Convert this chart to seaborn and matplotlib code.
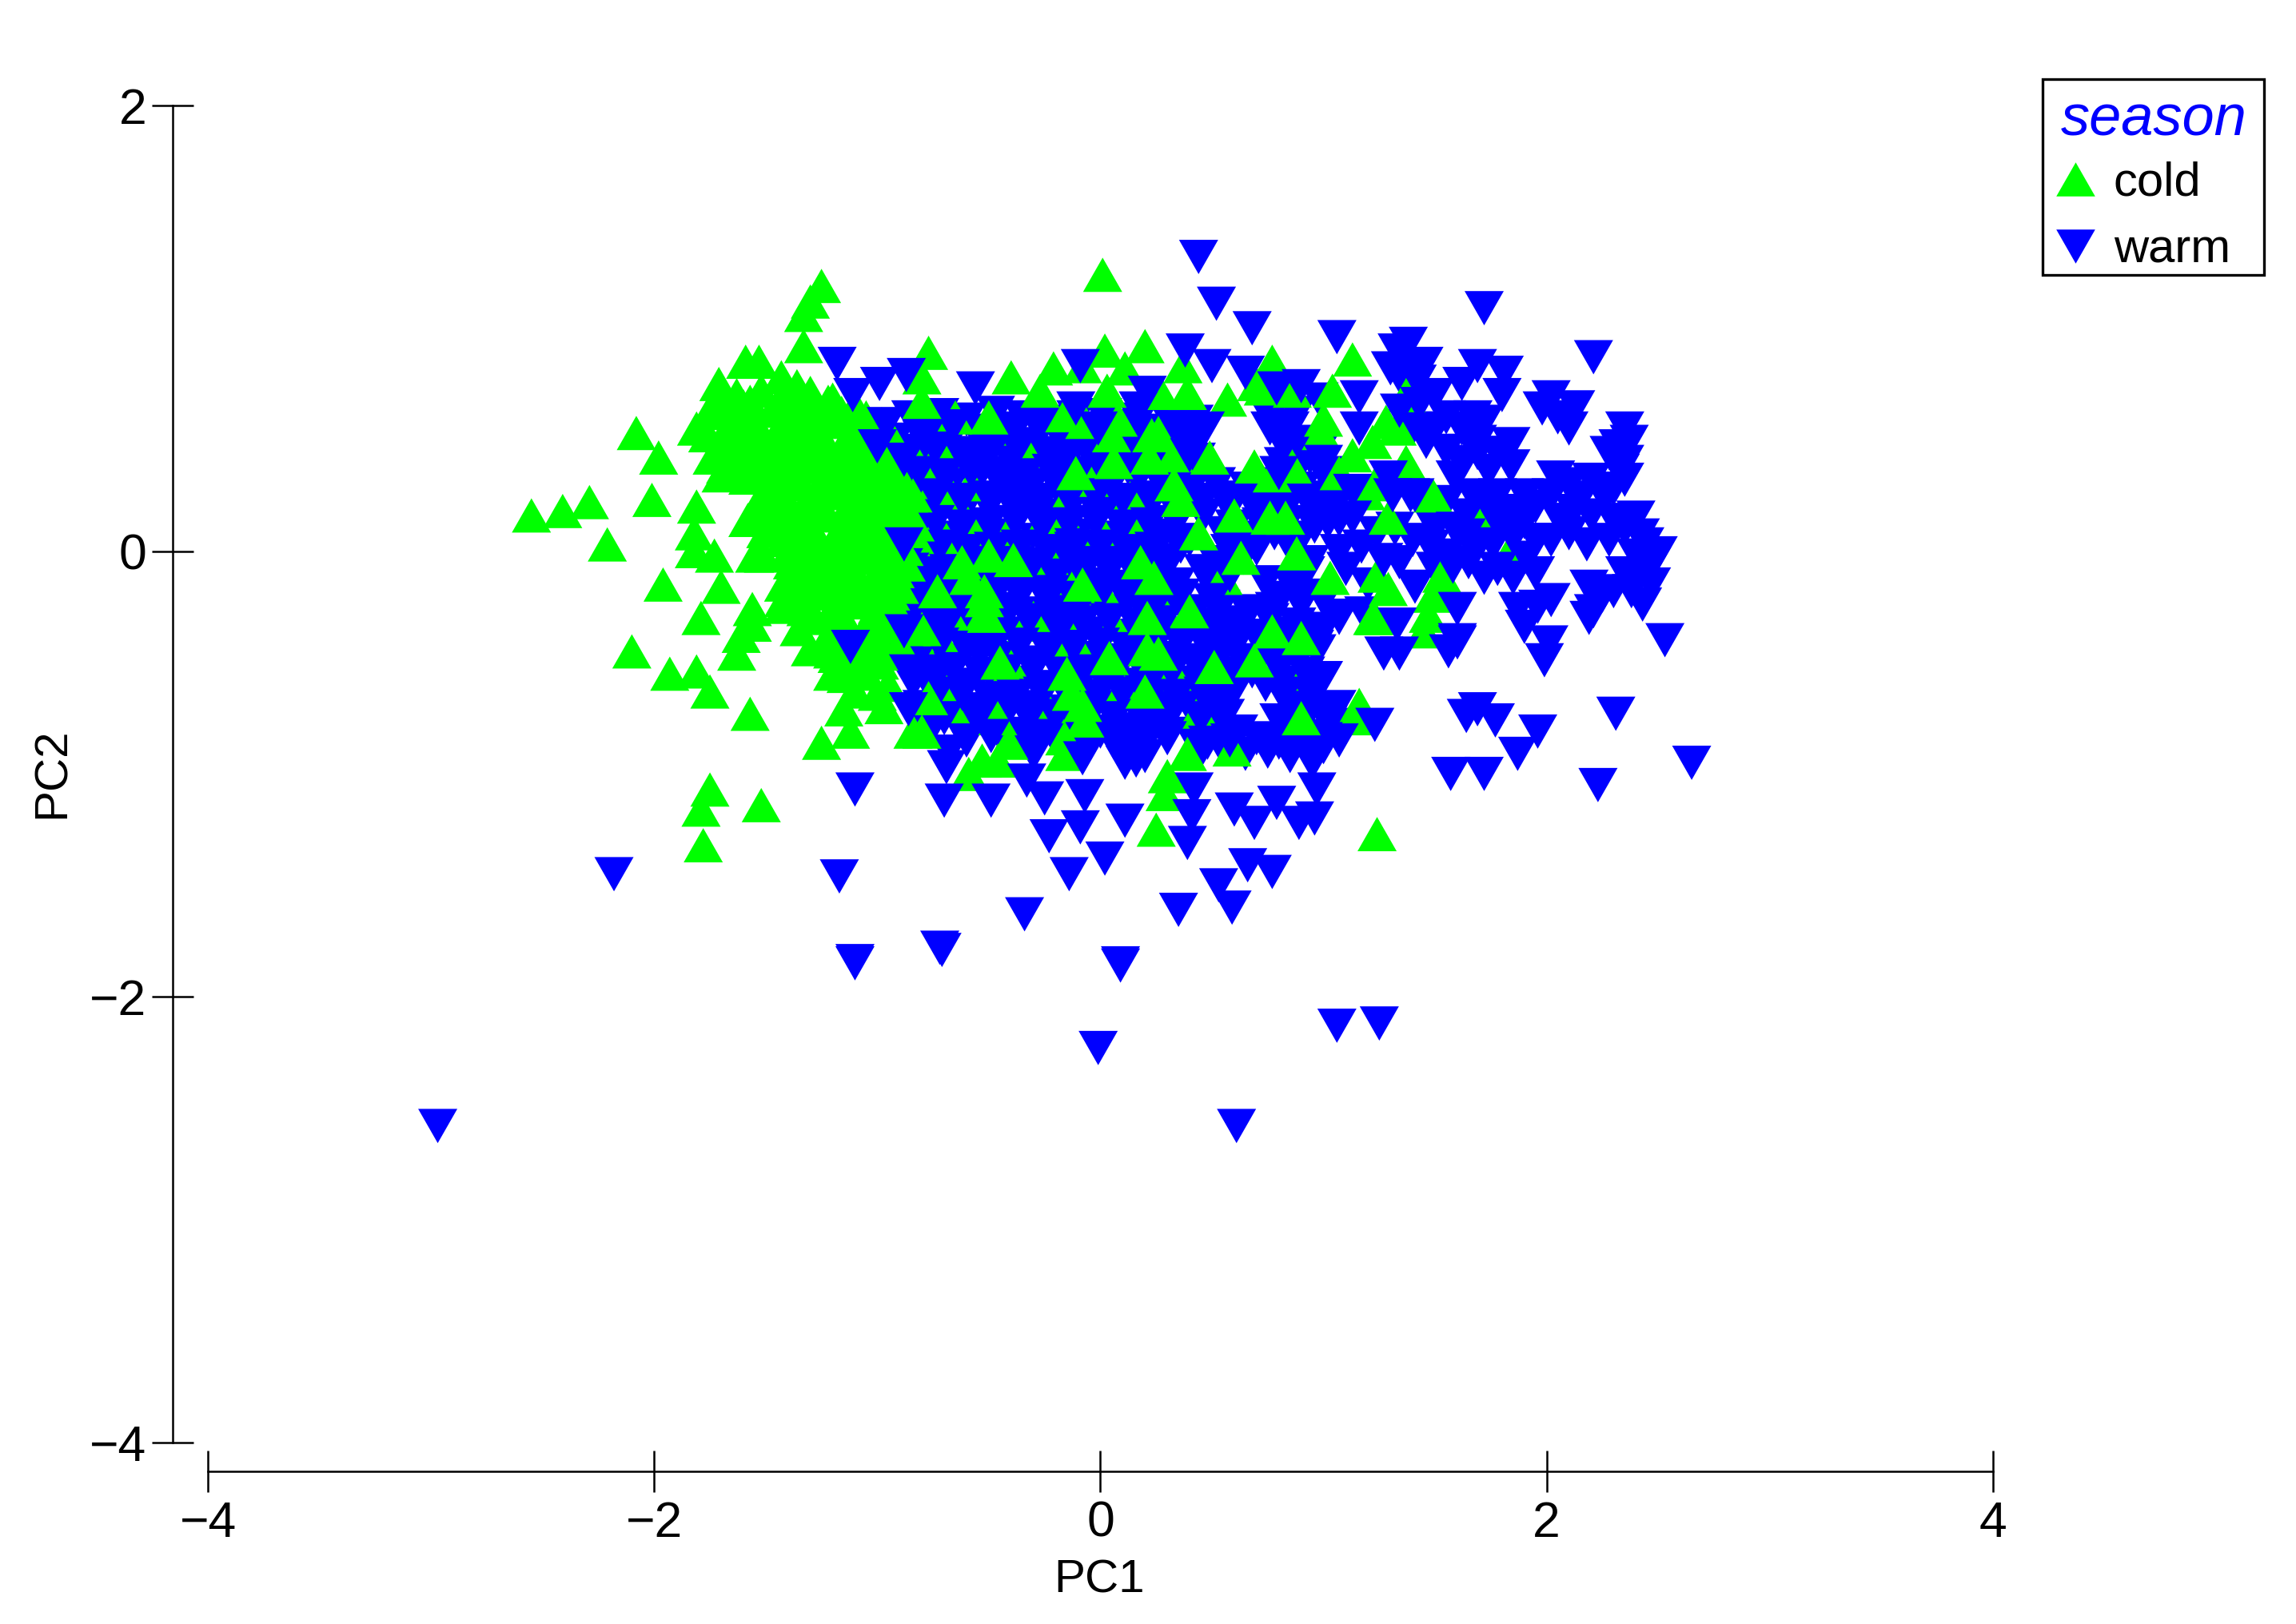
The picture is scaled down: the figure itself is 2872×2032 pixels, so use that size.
import matplotlib
matplotlib.use("Agg")
import matplotlib.pyplot as plt
from matplotlib.lines import Line2D
from matplotlib.patches import Rectangle
from matplotlib.path import Path
import pandas as pd
import seaborn as sns

# (PC1, PC2), grouped by drawing layer
warm_mass = [
(-.85,.60),(-.72,.61),(-.60,.59),(-.47,.62),(-.35,.60),(-.22,.58),(-.11,.60),(.01,.61),(.17,.59),(.30,.60),(.42,.58),(.76,.60),(.88,.62),
(-.92,.50),(-.80,.51),(-.68,.49),(-.55,.52),(-.43,.50),(-.30,.48),(-.18,.51),(-.06,.50),(.07,.49),(.19,.52),(.31,.50),(.41,.48),(.80,.51),(.92,.49),
(-.88,.40),(-.76,.41),(-.64,.39),(-.52,.42),(-.40,.40),(-.28,.38),(-.16,.41),(-.03,.40),(.09,.39),(.20,.42),(.33,.40),(.43,.41),(.82,.39),(.94,.42),
(-.92,.29),(-.80,.30),(-.68,.28),(-.56,.31),(-.44,.29),(-.32,.27),(-.20,.30),(-.08,.29),(.04,.28),(.16,.31),(.28,.29),(.40,.27),(.52,.30),(.66,.28),(.78,.30),(.90,.28),
(-.86,.18),(-.74,.19),(-.62,.17),(-.50,.20),(-.38,.18),(-.26,.16),(-.14,.19),(-.02,.18),(.10,.17),(.22,.20),(.34,.18),(.46,.16),(.58,.19),(.70,.18),(.82,.17),(.95,.19),
(-.92,.07),(-.80,.08),(-.68,.06),(-.56,.09),(-.44,.07),(-.32,.05),(-.20,.08),(-.08,.07),(.04,.06),(.16,.09),(.28,.07),(.40,.05),(.55,.08),(.66,.06),(.78,.08),(.90,.06),
(-.90,-.04),(-.78,-.03),(-.66,-.05),(-.54,-.02),(-.42,-.04),(-.30,-.06),(-.18,-.03),(-.06,-.04),(.06,-.05),(.18,-.02),(.30,-.04),(.52,-.05),(.64,-.03),(.94,-.05),
(-.86,-.15),(-.74,-.14),(-.62,-.16),(-.50,-.13),(-.38,-.15),(-.26,-.17),(-.14,-.14),(-.02,-.15),(.10,-.16),(.22,-.13),(.34,-.15),(.50,-.16),(.74,-.14),(.86,-.16),
(-.90,-.26),(-.78,-.25),(-.66,-.27),(-.54,-.24),(-.42,-.26),(-.30,-.28),(-.18,-.25),(-.06,-.26),(.06,-.27),(.18,-.24),(.30,-.26),(.42,-.27),(.54,-.25),(.66,-.27),(.78,-.26),(.90,-.24),
(-.86,-.37),(-.74,-.36),(-.62,-.38),(-.50,-.35),(-.38,-.37),(-.26,-.39),(-.14,-.36),(-.02,-.37),(.10,-.38),(.22,-.35),(.34,-.37),(.46,-.38),(.58,-.36),(.70,-.38),(.82,-.37),(.94,-.35),
(-.90,-.48),(-.78,-.47),(-.66,-.49),(-.54,-.46),(-.42,-.48),(-.30,-.50),(-.18,-.47),(-.06,-.48),(.06,-.49),(.18,-.46),(.30,-.48),(.42,-.49),(.54,-.47),(.66,-.49),(.78,-.48),(.90,-.46),
(-.84,-.59),(-.72,-.58),(-.60,-.60),(-.48,-.57),(-.36,-.59),(-.24,-.61),(-.12,-.58),(.02,-.59),(.14,-.60),(.26,-.57),(.38,-.59),(.50,-.60),(.62,-.58),(.74,-.60),(.86,-.59),
(-.80,-.70),(-.68,-.69),(-.56,-.71),(-.44,-.68),(-.32,-.70),(-.20,-.72),(-.08,-.69),(.04,-.70),(.16,-.71),(.28,-.68),(.40,-.70),(.52,-.71),(.88,-.69),(1.00,-.71),
(-.76,-.80),(-.62,-.81),(-.50,-.79),(-.38,-.82),(-.26,-.80),(-.12,-.78),(.00,-.81),(.12,-.80),(.24,-.79),(.40,-.82),(.50,-.80),(.62,-.81),(.86,-.79),
(-.68,-.90),(-.30,-.91),(-.10,-.89),(.10,-.90),(.20,-.92),(.45,-.90),(.55,-.89),(.65,-.91),(.75,-.90),(.85,-.92),(.95,-.89),
]
cold_partly_hidden = [
(-.43,.55),(-.65,.60),(-.72,.45),(-.77,.31),(-.81,.38),(-.66,.24),(-.18,.18),(-.26,.12),(.00,.10),(-.54,.10),(-.40,.10),(-.75,.07),(-.69,.05),(-.23,-.03),(.14,.25),(.15,.15),
(-.67,-.60),(-.63,-.70),(.06,-.33),(-.33,-.33),(-.30,-.30),(.30,-.30),(.59,-.89),(1.67,.18),(1.83,-.01),(.02,-.20),(-.82,-.35),(-.10,-.12),(.92,-.55),(1.04,.20),
(-.58,.30),(-.30,.45),(-.05,.32),(-.62,-.28),(-.40,-.52),(-.12,-.40),(.10,-.62),(.33,-.55),(.55,-.12),(-.70,-.42),(-.24,-.70),(.44,-.72),
]
warm_fill = [
(-.78,.55),(-.66,.56),(-.53,.54),(-.41,.55),(-.28,.56),(-.16,.54),(-.05,.55),(.08,.56),(.24,.54),(.36,.55),(.82,.56),
(-.86,.45),(-.74,.46),(-.62,.44),(-.49,.45),(-.37,.46),(-.24,.44),(-.12,.45),(.01,.46),(.13,.44),(.25,.45),(.37,.46),(.86,.44),(.98,.45),
(-.82,.35),(-.70,.34),(-.58,.36),(-.46,.35),(-.34,.34),(-.22,.36),(-.10,.35),(.03,.34),(.15,.36),(.27,.35),(.38,.34),(.88,.36),(1.00,.35),
(-.86,.24),(-.74,.25),(-.62,.23),(-.50,.24),(-.38,.25),(-.26,.23),(-.14,.24),(-.02,.25),(.10,.23),(.22,.24),(.34,.25),(.46,.23),(.60,.24),(.72,.25),(.84,.23),(.96,.24),
(-.86,.12),(-.74,.13),(-.62,.11),(-.50,.12),(-.38,.13),(-.26,.11),(-.14,.12),(-.02,.13),(.10,.11),(.22,.12),(.34,.13),(.60,.11),(.72,.12),(.84,.13),(.96,.11),
(-.84,.01),(-.72,.02),(-.60,.00),(-.48,.01),(-.36,.02),(-.24,.00),(-.12,.01),(.00,.02),(.12,.00),(.24,.01),(.36,.02),(.58,.00),(.70,.01),(.85,.02),
(-.80,-.10),(-.68,-.09),(-.56,-.11),(-.44,-.10),(-.32,-.09),(-.20,-.11),(-.08,-.10),(.04,-.09),(.16,-.11),(.28,-.10),(.46,-.09),(.58,-.11),(.92,-.10),
(-.84,-.21),(-.72,-.20),(-.60,-.22),(-.48,-.21),(-.36,-.20),(-.24,-.22),(-.12,-.21),(.00,-.20),(.12,-.22),(.24,-.21),(.36,-.20),(.50,-.22),(.80,-.21),(.92,-.20),
(-.80,-.32),(-.68,-.31),(-.56,-.33),(-.44,-.32),(-.32,-.31),(-.20,-.33),(-.08,-.32),(.04,-.31),(.16,-.33),(.28,-.32),(.40,-.31),(.52,-.33),(.64,-.32),(.76,-.31),(.88,-.33),
(-.84,-.43),(-.72,-.42),(-.60,-.44),(-.48,-.43),(-.36,-.42),(-.24,-.44),(-.12,-.43),(.00,-.42),(.12,-.44),(.24,-.43),(.36,-.42),(.48,-.44),(.60,-.43),(.72,-.42),(.84,-.44),(.96,-.43),
(-.78,-.54),(-.66,-.53),(-.54,-.55),(-.42,-.54),(-.30,-.53),(-.18,-.55),(-.06,-.54),(.08,-.53),(.20,-.55),(.32,-.54),(.44,-.53),(.56,-.55),(.68,-.54),(.80,-.53),(.92,-.55),
(-.74,-.65),(-.62,-.64),(-.50,-.66),(-.38,-.65),(-.26,-.64),(-.14,-.66),(-.02,-.65),(.10,-.64),(.22,-.66),(.34,-.65),(.46,-.64),(.58,-.66),(.82,-.65),(.94,-.64),
(-.70,-.75),(-.56,-.74),(-.44,-.76),(-.32,-.75),(-.20,-.74),(-.06,-.76),(.06,-.75),(.18,-.74),(.30,-.76),(.45,-.75),(.56,-.74),(.80,-.76),(.92,-.75),
(-.60,-.85),(-.44,-.84),(-.32,-.86),(-.20,-.85),(-.04,-.84),(.06,-.86),(.18,-.85),(.30,-.84),(.48,-.86),(.58,-.85),(.70,-.84),(.80,-.86),(.90,-.85),
(.98,.68),(1.05,.20),(1.17,.02),(1.10,-.08),(1.20,-.15),(1.00,-.22),(1.32,.10),(1.24,.08),(1.40,.05),(1.34,-.05),(1.18,-.28),(1.00,-.35),(.97,-.45),(.98,-.83),(.95,-.95),(1.00,-.88),(1.05,-.78),(.98,-.60),
(1.62,.55),(1.72,.58),(1.55,.60),(1.50,.70),(1.42,.76),(1.55,.45),(1.62,.40),(1.74,.36),(1.84,.38),(1.55,.22),(1.64,.16),(1.74,.20),(1.84,.18),(1.95,.20),(2.02,.25),(2.10,.30),(2.20,.32),(2.30,.28),(2.20,.16),(2.30,.14),(2.12,.18),
(1.95,.05),(1.85,.06),(1.76,.03),(1.64,.07),(1.50,.10),(1.48,.02),(1.55,-.02),(1.65,-.05),(1.78,-.08),(1.85,-.12),(1.95,-.10),(1.50,-.08),(2.35,.10),(2.28,.05),(2.42,.07),(2.40,-.02),(2.35,-.10),(2.30,-.18),(2.38,-.18),
(2.05,.60),(2.10,.55),(1.36,.75),(1.40,.82),(1.30,.82),(1.50,.55),(1.40,.55),(2.32,.47),(2.33,.36),
]
cold_points = [
(-2.55,.16),(-2.41,.18),(-2.29,.22),(-2.08,.53),(-1.98,.42),(-2.01,.23),(-2.21,.03),(-1.81,.20),(-1.82,.08),(-1.82,.00),(-1.73,-.02),
(-1.96,-.15),(-1.70,-.16),(-1.79,-.30),(-1.56,-.26),(-1.56,-.33),(-1.55,-.02),(-1.51,-.02),(-1.39,.01),(-1.25,1.19),(-1.30,1.12),(-1.33,1.06),(-1.33,.92),
(-1.59,.85),(-1.53,.85),(-1.43,.78),(-1.36,.74),(-1.71,.75),(-1.75,.63),(-1.81,.55),(-1.60,.65),
(-2.10,-.45),(-1.93,-.55),(-1.81,-.54),(-1.75,-.63),(-1.57,-.73),(-1.61,-.38),(-1.63,-.46),(-1.23,-.40),(-1.18,-.47),(-1.14,-.56),(-.97,-.70),(-1.15,-.71),(-1.12,-.81),(-1.25,-.86),(-.84,-.81),
(-1.75,-1.07),(-1.79,-1.16),(-1.78,-1.32),(-1.52,-1.14),(-1.42,-.22),(-1.32,-.26),(-1.14,-.32),(-.99,-.50),(-1.08,-.50),
(-1.05,-.55),(-.95,-.60),(-1.20,-.55),(-1.30,-.44),(-1.35,-.35),(-1.10,-.63),(-1.00,-.64),
(-1.63,.70),(-1.52,.72),(-1.42,.69),(-1.30,.71),(-1.20,.68),
(-1.72,.62),(-1.63,.60),(-1.47,.63),(-1.38,.61),(-1.28,.60),(-1.16,.62),(-1.05,.60),
(-1.76,.52),(-1.66,.50),(-1.55,.53),(-1.46,.51),(-1.33,.52),(-1.24,.50),(-1.12,.53),(-1.02,.51),(-.93,.50),
(-1.74,.42),(-1.63,.41),(-1.52,.43),(-1.41,.40),(-1.30,.42),(-1.20,.41),(-1.09,.43),(-.99,.42),
(-1.70,.34),(-1.58,.33),(-1.46,.35),(-1.35,.32),(-1.23,.34),(-1.12,.33),(-1.00,.35),(-.90,.33),
(-1.52,.24),(-1.42,.25),(-1.30,.23),(-1.20,.26),(-1.08,.24),(-.96,.23),(-.86,.25),
(-1.58,.14),(-1.47,.15),(-1.36,.13),(-1.25,.16),(-1.14,.14),(-1.03,.13),(-.92,.15),(-.85,.14),
(-1.42,.05),(-1.32,.06),(-1.20,.04),(-1.10,.07),(-.98,.05),(-.90,.04),
(-1.38,-.05),(-1.28,-.04),(-1.16,-.06),(-1.05,-.03),(-.94,-.05),(-.87,-.06),
(-1.42,-.15),(-1.30,-.14),(-1.20,-.16),(-1.08,-.13),(-.98,-.15),(-.90,-.16),
(-1.42,-.25),(-1.32,-.24),(-1.20,-.26),(-1.10,-.23),(-1.00,-.25),(-.92,-.26),
(-1.20,-.35),(-1.05,-.36),(-.97,-.34),(-1.20,-.45),(-1.07,-.44),(-.96,-.46),
(-1.68,.66),(-1.57,.67),(-1.45,.65),(-1.33,.66),(-1.22,.67),(-1.10,.65),
(-1.66,.57),(-1.55,.58),(-1.43,.56),(-1.33,.57),(-1.22,.58),(-1.10,.56),(-.98,.57),
(-1.70,.47),(-1.59,.48),(-1.49,.46),(-1.38,.47),(-1.27,.48),(-1.16,.46),(-1.06,.47),(-.96,.48),
(-1.68,.38),(-1.57,.39),(-1.46,.37),(-1.35,.38),(-1.25,.39),(-1.14,.37),(-1.03,.38),(-.94,.39),
(-1.46,.29),(-1.36,.30),(-1.25,.28),(-1.14,.29),(-1.04,.30),(-.94,.28),
(-1.54,.19),(-1.44,.20),(-1.34,.18),(-1.24,.19),(-1.13,.20),(-1.02,.18),(-.91,.19),
(-1.50,.09),(-1.40,.10),(-1.28,.08),(-1.17,.09),(-1.06,.10),(-.95,.08),(-.85,.09),
(-1.36,.00),(-1.24,.01),(-1.12,-.01),(-1.00,.00),(-.88,.01),
(-1.35,-.10),(-1.23,-.09),(-1.12,-.11),(-1.00,-.10),(-.92,-.09),
(-1.36,-.20),(-1.25,-.19),(-1.14,-.21),(-1.03,-.20),(-.94,-.19),
(-1.28,-.30),(-1.15,-.31),(-1.02,-.29),(-.92,-.30),(-1.12,-.41),(-1.00,-.40),(-.90,-.42),
(.01,1.24),(-.77,.89),(-.80,.78),(-.80,.67),(-.40,.78),(-.21,.82),(-.27,.72),(.02,.90),(.20,.92),(.11,.82),(-.08,.83),(.03,.72),(.37,.83),(.39,.71),(.27,.71),(.57,.68),(.77,.85),(.70,.75),(.73,.73),(.86,.72),
(-.16,.61),(-.07,.58),(.05,.52),(.08,.59),(.26,.53),(.23,.52),(.22,.42),(.06,.40),(-.11,.35),(.33,.30),(.33,.43),(.36,.23),(.49,.42),(.69,.38),(.86,.38),(.44,.08),(.60,.16),(.76,.15),(.83,.15),(.88,-.01),(.63,-.03),(.77,.34),
(-.50,.60),(-.84,.25),(-.83,.12),
(-.50,-.02),(-.62,-.05),(-.39,-.04),(-.59,-.12),(-.73,-.18),(-.52,-.18),(-.52,-.28),(-.80,-.35),(-.08,-.15),(.18,-.05),(.24,-.12),
(-.53,-.94),(-.59,-1.00),(-.41,-.86),(-.46,-.94),(-.45,-.50),(-.15,-.55),(-.13,-.64),(-.07,-.76),(-.08,-.69),(-.16,-.84),(-.16,-.91),(.04,-.48),(.21,-.44),(.26,-.46),(.20,-.63),(.51,-.52),(.69,-.49),(.77,-.36),(.90,-.39),
(-.46,-.75),(-.80,-.81),(-.77,-.66),(.40,-.27),(.21,-.30),(-.52,-.22),(-.51,-.29),(.90,-.75),(.39,-.91),(.30,-1.01),(.29,-1.09),(.25,-1.25),
(1.13,.86),(1.04,.72),(1.00,.59),(1.37,.70),(1.28,.58),(1.33,.55),(.99,.53),(1.22,.49),(1.13,.43),(1.07,.35),(1.23,.30),(1.37,.40),(1.49,.25),(1.19,.26),(1.29,.15),
(1.03,-.12),(1.24,-.11),(1.53,-.11),(1.29,-.17),(1.49,-.20),(1.23,-.30),(1.47,-.29),(1.24,-1.27),(1.16,-.69),(1.14,-.75),(1.22,-.30),(1.45,-.36),
]
warm_top = [
(.44,1.32),(.52,1.11),(.68,1.00),(.38,.90),(.50,.83),(.65,.80),(-.09,.83),(-.56,.73),(-.11,.64),(.17,.64),(.21,.71),(.79,.73),(.90,.74),(.47,.55),(.76,.55),(.85,.55),(.40,.43),(-.01,.55),(.80,.35),
(-1.18,.84),(-1.11,.70),(-.96,.57),(-.99,.75),(-.87,.79),(-1.00,.47),(-.88,.41),(-.88,.03),(-.88,-.36),(-1.12,-.43),(-.86,-.54),(-.86,-.71),(-1.10,-1.07),(-2.18,-1.45),(-1.17,-1.46),(-1.10,-1.85),
(-.69,-.97),(-.70,-1.12),(-.49,-1.12),(-.33,-1.03),(-.25,-1.11),(-.23,-1.28),(-.09,-1.24),(-.07,-1.10),(.11,-1.21),(.02,-1.38),(-.14,-1.45),(-.34,-1.63),(-.71,-1.79),(.09,-1.86),(.35,-1.61),(.53,-1.50),(.59,-1.60),(.66,-1.41),(.77,-1.44),
(.39,-1.31),(.42,-1.07),(.41,-1.19),(.60,-1.16),(.69,-1.22),(.89,-1.22),(.79,-1.13),(.11,-.95),(.16,-.94),(-.08,-.93),(-.27,-.83),(-.49,-.83),
(1.72,1.09),(1.06,.96),(1.38,.93),(1.33,.90),(1.45,.84),(1.69,.83),(1.81,.80),(2.21,.87),(1.16,.69),(1.43,.66),(1.62,.75),(2.02,.69),(2.13,.645),(1.98,.64),(1.34,.63),(1.80,.70),(1.16,.55),(2.35,.55),(2.37,.49),(1.46,.49),(1.69,.49),(1.84,.48),(1.67,.60),
(2.28,.44),(2.35,.40),(2.35,.32),(2.04,.33),(1.59,.33),(1.69,.44),(1.78,.44),(2.14,.24),(2.26,.24),(2.40,.15),(2.44,.03),(2.50,-.01),(2.47,-.06),(2.47,-.15),(2.43,-.24),(2.42,-.10),(2.18,.03),(2.06,.14),(1.90,.25),(1.78,.25),(1.67,.25),(1.78,.13),(1.90,.13),
(1.41,.25),(1.59,.10),(1.69,.02),(1.58,-.07),(1.72,-.12),(2.19,-.16),(2.21,-.27),(2.25,-.20),(1.91,-.03),(2.10,.08),(2.02,.05),(1.96,-.25),(1.87,-.26),(2.02,-.22),(1.41,-.16),(1.60,-.26),(1.60,-.40),(1.07,-.29),(1.07,.00),(1.27,-.04),(1.13,.15),(1.02,.13),(1.31,.25),(1.39,.25),(1.13,.27),(1.29,.33),(1.00,.40),(1.07,.14),
(1.07,-.30),(1.27,-.46),(1.34,-.46),(1.33,-.33),(1.56,-.45),(1.60,-.41),(1.99,-.49),(2.01,-.41),(1.90,-.34),(2.19,-.30),(2.53,-.40),(1.00,-.57),(1.06,-.70),(1.02,-.77),(1.07,-.85),(1.23,-.78),(1.64,-.74),(1.69,-.71),(1.77,-.76),(1.96,-.81),(1.87,-.91),(2.31,-.73),(1.57,-1.00),(1.72,-1.00),(2.23,-1.05),(2.65,-.95),(.97,-1.07),(.96,-1.20),
(-2.97,-2.58),(.61,-2.58),(-.01,-2.23),(1.06,-2.13),(1.25,-2.12),(.09,-1.85),(-1.10,-1.84),(-.72,-1.78),
]
season_levels = ["cold", "warm"]
season_colors = ["#00FF00", "#0000FF"]
x_ticks = [-4, -2, 0, 2, 4]
y_ticks = [-4, -2, 0, 2]

rows = ([p + ("warm",) for p in warm_mass] + [p + ("cold",) for p in cold_partly_hidden]
        + [p + ("warm",) for p in warm_fill] + [p + ("cold",) for p in cold_points]
        + [p + ("warm",) for p in warm_top])
df = pd.DataFrame(rows, columns=["PC1", "PC2", "season"])

sns.set_style("white")
plt.rcParams["font.family"] = ["Liberation Sans", "DejaVu Sans"]
plt.rcParams["text.color"] = "black"
plt.rcParams["axes.labelcolor"] = "black"

up = Path([(0, .875), (-1, -.875), (1, -.875), (0, .875)], closed=True)
down = Path([(0, -.875), (-1, .875), (1, .875), (0, -.875)], closed=True)

fig = plt.figure(figsize=(28.72, 20.32), dpi=100, facecolor="white")
ax = fig.add_axes([118/1568, 1-1005/1109, (1361-118)/1568, (1005-72)/1109])
sns.scatterplot(data=df, x="PC1", y="PC2", hue="season", style="season",
                hue_order=season_levels, style_order=season_levels,
                palette=dict(zip(season_levels, season_colors)),
                markers={"cold": up, "warm": down},
                s=1245, linewidth=0, edgecolor="none", legend=False, ax=ax, clip_on=False)
ax.set_xlim(-4 - 24/152.4, 4)
ax.set_ylim(-4 - 20/152.2, 2)
ax.set_xticks(x_ticks, [str(t).replace("-", "\u2212") for t in x_ticks])
ax.set_yticks(y_ticks, [str(t).replace("-", "\u2212") for t in y_ticks])
ax.set_facecolor("white")
for s in ("top", "right"):
    ax.spines[s].set_visible(False)
ax.spines["left"].set_bounds(-4, 2)
ax.spines["bottom"].set_bounds(-4, 4)
for s in ("left", "bottom"):
    ax.spines[s].set_linewidth(1.8)
    ax.spines[s].set_color("black")
ax.tick_params(axis="both", direction="inout", length=37, width=1.8, labelsize=45, color="black", labelcolor="black", left=True, bottom=True)
ax.tick_params(axis="x", pad=7)
ax.tick_params(axis="y", pad=5)
ax.set_xlabel("PC1", fontsize=42, va="center", color="black")
ax.set_ylabel("PC2", fontsize=42, va="center", rotation=90, color="black")
ax.xaxis.set_label_coords(751/1568, 1-1079/1109, transform=fig.transFigure)
ax.yaxis.set_label_coords(36/1568, 1-528/1109, transform=fig.transFigure)

handles = [Line2D([], [], linestyle="none", marker=up, markersize=35, markerfacecolor=season_colors[0], markeredgewidth=0),
           Line2D([], [], linestyle="none", marker=down, markersize=35, markerfacecolor=season_colors[1], markeredgewidth=0)]
leg = fig.legend(handles, season_levels, loc="upper right", bbox_to_anchor=(1546/1568, 1-52/1109),
                 borderaxespad=0, fontsize=43, frameon=False,
                 handletextpad=0.5, labelspacing=0.48, borderpad=0.35, handlelength=0.6, alignment="left",
                 title="season", title_fontproperties={"style": "italic", "size": 52})
leg.get_title().set_color("#0000FF")
leg._legend_box.sep = 12.7
for t in leg.get_texts():
    t.set_color("black")
fig.add_artist(Rectangle((1395/1568, 1-188/1109), 151/1568, 134/1109, transform=fig.transFigure,
                         facecolor="none", edgecolor="black", linewidth=2.4))

fig.savefig("out.png", dpi=100, facecolor="white")
